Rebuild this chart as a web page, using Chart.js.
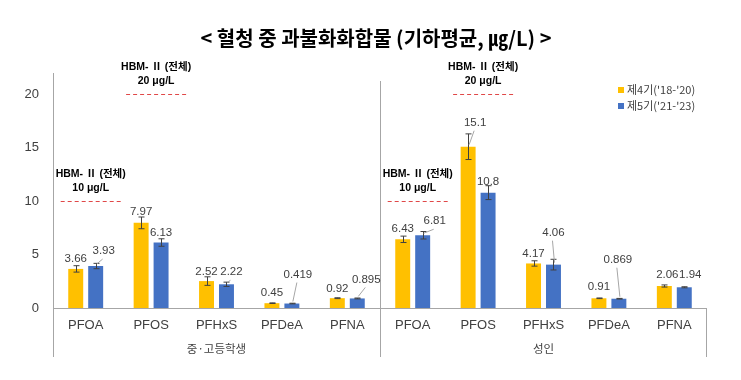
<!DOCTYPE html>
<html><head><meta charset="utf-8">
<script src="https://cdn.jsdelivr.net/npm/chart.js@4.4.1/dist/chart.umd.min.js"></script>
<style>html,body{margin:0;padding:0;background:#fff;}#wrap{width:741px;height:380px;position:relative;}</style>
</head><body><div id="wrap"><canvas id="c"></canvas></div>
<script>
// ---- data ----
const titleText = '< 혈청 중 과불화화합물 (기하평균, ㎍/L) >';
const categories = ['PFOA','PFOS','PFHxS','PFDeA','PFNA','PFOA','PFOS','PFHxS','PFDeA','PFNA'];
const groupNames = ['중·고등학생','성인'];
const groupSizes = [5,5];
const seriesNames = ["제4기('18-'20)","제5기('21-'23)"];
const cycle4 = [3.66, 7.97, 2.52, 0.45, 0.92, 6.43, 15.1, 4.17, 0.91, 2.06];
const cycle5 = [3.93, 6.13, 2.22, 0.419, 0.895, 6.81, 10.8, 4.06, 0.869, 1.94];
const err4 = [0.3, 0.55, 0.4, 0.03, 0.04, 0.3, 1.2, 0.25, 0.03, 0.1];
const err5 = [0.25, 0.35, 0.2, 0.03, 0.04, 0.35, 0.65, 0.5, 0.03, 0.05];
const yTicks = [0, 5, 10, 15, 20];
const hbmCategory = [0, 1, 5, 6];
const hbmValue = [10, 20, 10, 20];
const hbmTitle = 'HBM- Ⅱ (전체)';
const hbmUnit = 'μg/L';

// ---- styling / label placement (offsets from bar top, px) ----
const colors = ['#FFC000', '#4472C4'];
const labelPlace = [
  [[0,-10,0],[0,-11,0],[0,-9,0],[0,-10,0],[0,-9,0],[0,-10,0],[7,-24,1],[0,-10,0],[0,-11,0],[3,-11,0]],
  [[8,-15,1],[0,-10,0],[5,-12,1],[6,-29,1],[9,-19,1],[12,-14,1],[0,-11,0],[0,-32,1],[-1,-39,1],[6,-12,0]]
];
const latin = "'Liberation Sans', 'Noto Sans CJK KR', sans-serif";
const korean = "'Noto Sans CJK KR', sans-serif";

const overlay = {
  id: 'overlay',
  afterDatasetsDraw(chart) {
    const ctx = chart.ctx, ca = chart.chartArea;
    const xs = chart.scales.x, ys = chart.scales.y;
    const vals = [cycle4, cycle5], errs = [err4, err5];
    ctx.save();
    // axis lines
    ctx.strokeStyle = '#a6a6a6'; ctx.lineWidth = 1;
    const lowY = ca.bottom + 49;
    let sepXs = [];
    let acc = 0;
    groupSizes.forEach((n, gi) => {
      acc += n;
      if (gi < groupSizes.length - 1) sepXs.push((xs.getPixelForValue(acc - 1) + xs.getPixelForValue(acc)) / 2);
    });
    ctx.beginPath();
    ctx.moveTo(Math.round(ca.left) + 0.5, ca.top); ctx.lineTo(Math.round(ca.left) + 0.5, lowY);
    ctx.moveTo(ca.left, Math.round(ca.bottom) + 0.5); ctx.lineTo(ca.right, Math.round(ca.bottom) + 0.5);
    sepXs.forEach(sx => { ctx.moveTo(Math.round(sx) + 0.5, ca.top + 8); ctx.lineTo(Math.round(sx) + 0.5, lowY); });
    ctx.moveTo(Math.round(ca.right) - 0.5, ca.bottom); ctx.lineTo(Math.round(ca.right) - 0.5, lowY);
    ctx.stroke();

    // group labels
    ctx.fillStyle = '#404040'; ctx.font = '11.5px ' + korean;
    ctx.textAlign = 'center'; ctx.textBaseline = 'middle';
    let start = 0;
    groupSizes.forEach((n, gi) => {
      const cx = (xs.getPixelForValue(start) + xs.getPixelForValue(start + n - 1)) / 2;
      ctx.fillText(groupNames[gi], cx, ca.bottom + 41);
      start += n;
    });

    // error bars, labels
    for (let d = 0; d < 2; d++) {
      const meta = chart.getDatasetMeta(d);
      meta.data.forEach((bar, j) => {
        const v = vals[d][j], e = errs[d][j];
        const yHi = ys.getPixelForValue(v + e), yLo = ys.getPixelForValue(v - e);
        const x = Math.round(bar.x) + 0.5;
        ctx.strokeStyle = '#404040'; ctx.lineWidth = 1;
        ctx.beginPath();
        ctx.moveTo(x, yHi); ctx.lineTo(x, yLo);
        ctx.moveTo(x - 3, yHi); ctx.lineTo(x + 3, yHi);
        ctx.moveTo(x - 3, yLo); ctx.lineTo(x + 3, yLo);
        ctx.stroke();
        const p = labelPlace[d][j];
        const lx = bar.x + p[0], ly = bar.y + p[1];
        if (p[2]) {
          ctx.strokeStyle = '#a6a6a6';
          ctx.beginPath();
          ctx.moveTo(bar.x + 1, bar.y - 2);
          ctx.lineTo(lx - 1, ly + 8);
          ctx.stroke();
        }
        ctx.fillStyle = '#404040'; ctx.font = '11.5px ' + latin;
        ctx.textAlign = 'center'; ctx.textBaseline = 'middle';
        ctx.fillText(String(v), lx, ly);
      });
    }

    // HBM reference lines
    hbmCategory.forEach((c, k) => {
      const cx = xs.getPixelForValue(c) + 5;
      const y = Math.round(ys.getPixelForValue(hbmValue[k])) + 0.5;
      ctx.strokeStyle = '#E04848'; ctx.lineWidth = 1; ctx.setLineDash([4, 3]);
      ctx.beginPath(); ctx.moveTo(cx - 30, y); ctx.lineTo(cx + 30, y); ctx.stroke();
      ctx.setLineDash([]);
      ctx.fillStyle = '#000'; ctx.font = 'bold 10.5px ' + latin;
      ctx.textAlign = 'center'; ctx.textBaseline = 'middle';
      ctx.fillText(hbmTitle, cx, y - 27);
      ctx.fillText(hbmValue[k] + ' ' + hbmUnit, cx, y - 13);
    });

    // legend
    const lx0 = ca.right - 89, ly0 = ca.top + 17;
    seriesNames.forEach((name, k) => {
      const yy = ly0 + k * 16;
      ctx.fillStyle = colors[k];
      ctx.fillRect(lx0, yy - 3, 6, 6);
      ctx.fillStyle = '#404040'; ctx.font = '11px ' + korean;
      ctx.textAlign = 'left'; ctx.textBaseline = 'middle';
      ctx.fillText(name, lx0 + 9, yy);
    });
    ctx.restore();
  }
};

new Chart(document.getElementById('c'), {
  type: 'bar',
  data: {
    labels: categories,
    datasets: [
      { label: seriesNames[0], data: cycle4, backgroundColor: colors[0], categoryPercentage: 0.61, barPercentage: 0.75 },
      { label: seriesNames[1], data: cycle5, backgroundColor: colors[1], categoryPercentage: 0.61, barPercentage: 0.75 }
    ]
  },
  options: {
    responsive: true, maintainAspectRatio: false, animation: false,
    layout: { padding: { left: 11, right: 0, top: 0, bottom: 0 } },
    plugins: {
      legend: { display: false },
      tooltip: { enabled: false },
      title: {
        display: true, text: titleText, color: '#000',
        font: { family: korean, size: 20, weight: 'bold', lineHeight: 1.2 },
        padding: { top: 26, bottom: 23 }
      }
    },
    scales: {
      x: {
        grid: { display: false, drawTicks: false }, border: { display: false },
        ticks: { color: '#404040', font: { family: latin, size: 13 }, padding: 10, maxRotation: 0, autoSkip: false },
        afterFit(s) { s.height = 72; }
      },
      y: {
        min: 0, max: 22,
        grid: { display: false, drawTicks: false }, border: { display: false },
        ticks: { color: '#404040', font: { family: latin, size: 13 }, padding: 14 },
        afterBuildTicks(s) { s.ticks = yTicks.map(v => ({ value: v })); },
        afterFit(s) { s.width = 42; }
      },
      yR: {
        position: 'right', display: true,
        grid: { display: false, drawTicks: false }, border: { display: false },
        ticks: { display: false },
        afterFit(s) { s.width = 34; }
      }
    }
  },
  plugins: [overlay]
});
</script></body></html>
